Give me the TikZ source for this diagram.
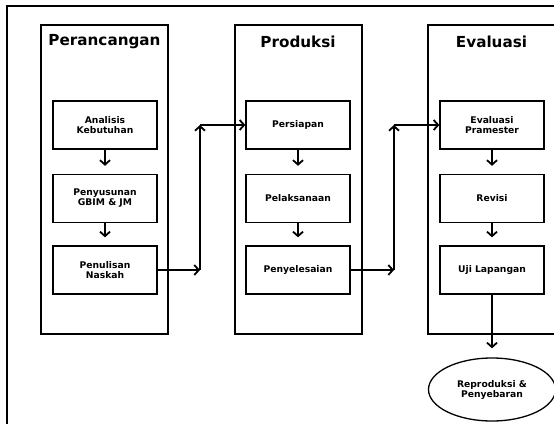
\documentclass[tikz,border=0pt]{standalone}
\usepackage{fontspec}
\setmainfont{DejaVu Sans}
\usetikzlibrary{arrows.meta,shapes.geometric}
\begin{document}
\begin{tikzpicture}[x=1pt,y=-1pt,
 col/.style={draw,line width=2pt,minimum width=127pt,minimum height=309pt,inner sep=0pt},
 box/.style={draw,line width=1.3pt,minimum width=104pt,minimum height=48pt,align=center,font=\bfseries\fontsize{9.2}{10}\selectfont,inner sep=0pt},
 ttl/.style={font=\bfseries\fontsize{15.2}{16}\selectfont},
 arr/.style={line width=1.8pt,-{Straight Barb[length=4.5pt,width=10pt]}},
]
\useasboundingbox (0,0) rectangle (554,423);
\clip (0,0) rectangle (554,423);
\draw[line width=1.2pt] (7,424) -- (7,6) -- (555,6);
% columns
\node[col] (c1) at (104.5,179.5) {};
\node[col] (c2) at (298,179.5) {};
\node[col] (c3) at (491.5,179.5) {};
\node[ttl] (t1) at (104.5,42) {Perancangan};
\node[ttl] (t2) at (298,42) {Produksi};
\node[ttl] (t3) at (491.5,42) {Evaluasi};
% boxes
\node[box] (a1) at (105,125) {Analisis\\Kebutuhan};
\node[box] (a2) at (105,198.5) {Penyusunan\\GBIM \& JM};
\node[box] (a3) at (105,270) {Penulisan\\Naskah};
\node[box] (p1) at (298,125) {Persiapan};
\node[box] (p2) at (298,198.5) {Pelaksanaan};
\node[box] (p3) at (298,270) {Penyelesaian};
\node[box] (u1) at (492,125) {Evaluasi\\Pramester};
\node[box] (u2) at (492,198.5) {Revisi};
\node[box] (u3) at (492,270) {Uji Lapangan};
\node[ellipse,draw,line width=1.3pt,minimum width=127pt,minimum height=63pt,inner sep=0pt,align=center,font=\bfseries\fontsize{9.2}{10}\selectfont] (e) at (492,389.5) {Reproduksi \&\\Penyebaran};
% arrows within columns
\draw[arr,shorten >=8pt] (a1) -- (a2);
\draw[arr,shorten >=8pt] (a2) -- (a3);
\draw[arr,shorten >=8pt] (p1) -- (p2);
\draw[arr,shorten >=8pt] (p2) -- (p3);
\draw[arr,shorten >=8pt] (u1) -- (u2);
\draw[arr,shorten >=8pt] (u2) -- (u3);
\draw[arr,shorten >=9pt] (u3) -- (e);
% cross arrows
\coordinate (k1) at (200,270);
\coordinate (k2) at (200,125);
\coordinate (m1) at (394,270);
\coordinate (m2) at (394,125);
\draw[arr] (a3) -- (k1);
\draw[arr] (k1) -- (k2);
\draw[arr] (k2) -- (p1);
\draw[arr] (p3) -- (m1);
\draw[arr] (m1) -- (m2);
\draw[arr] (m2) -- (u1);
\end{tikzpicture}
\end{document}
